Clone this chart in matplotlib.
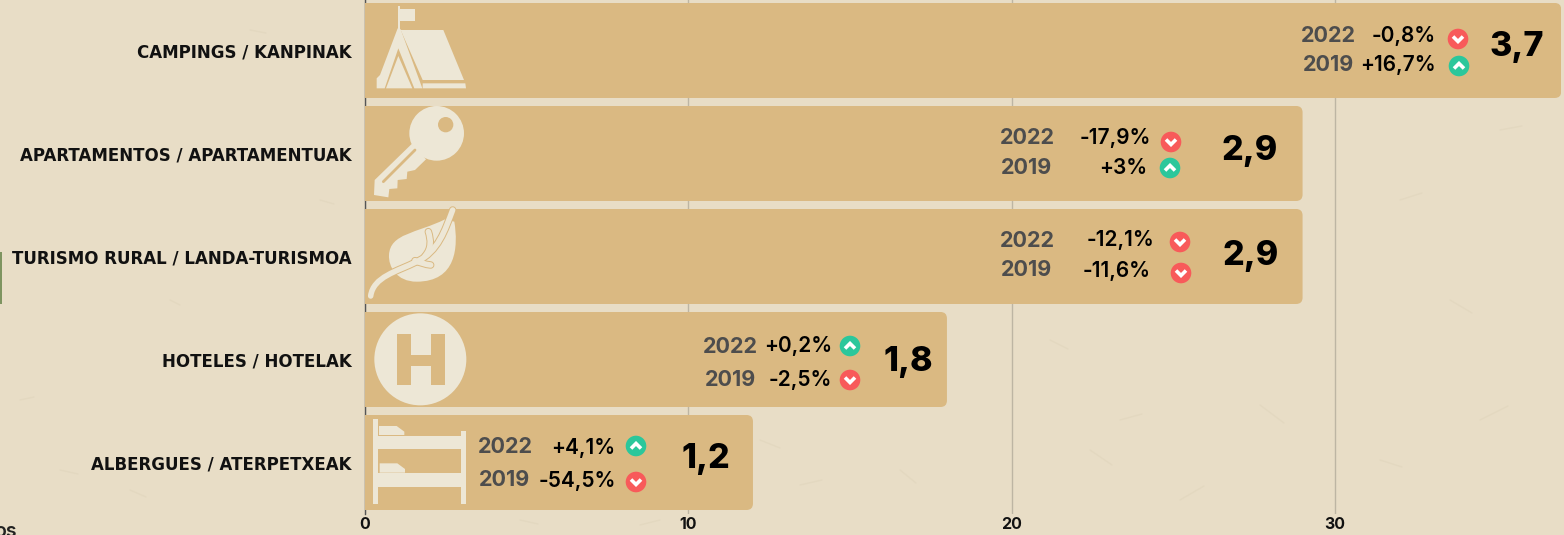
import matplotlib
matplotlib.use('Agg')
import matplotlib.pyplot as plt
from matplotlib.patches import Circle, FancyBboxPatch, PathPatch, Polygon, Rectangle
from matplotlib.path import Path

categories = ['CAMPINGS / KANPINAK', 'APARTAMENTOS / APARTAMENTUAK',
              'TURISMO RURAL / LANDA-TURISMOA', 'HOTELES / HOTELAK',
              'ALBERGUES / ATERPETXEAK']
bar_values = [37, 29, 29, 18, 12]
value_labels = ['3,7', '2,9', '2,9', '1,8', '1,2']
change_2022 = ['-0,8%', '-17,9%', '-12,1%', '+0,2%', '+4,1%']
change_2019 = ['+16,7%', '+3%', '-11,6%', '-2,5%', '-54,5%']
x_ticks = [0, 10, 20, 30]

BG = '#E8DDC6'
BAR = '#DAB982'
ICON = '#EDE7D6'
RED = '#F85A5A'
GREEN = '#2BC79B'
FONT = 'Inter'

# pixel layout of the annotations, one entry per bar
year_x = [1328, 1027, 1027, 730, 505]
year_y = [(36, 65), (138, 168), (241, 270), (347, 380), (447, 480)]
pct_x = [(1436, 1436), (1151, 1147), (1154, 1151), (832, 832), (615, 616)]
pct_y = [(36, 65), (138, 168), (240, 271), (346, 380), (448, 481)]
dot_xy = [((1458, 39), (1459, 66)), ((1171, 142), (1170, 168)),
          ((1180, 242), (1181, 273)), ((850, 346), (850, 380)),
          ((636, 446), (636, 482))]
big_xy = [(1517, 47), (1250, 151), (1251, 256), (908, 362), (706, 459)]

# faint paper marks on the background
paper_marks = [((20, 400), (34, 397)), ((60, 470), (78, 474)), ((130, 490), (146, 497)),
               ((170, 300), (180, 305)), ((250, 30), (266, 33)), ((320, 200), (334, 204)),
               ((520, 520), (538, 524)), ((640, 525), (660, 520)), ((760, 440), (780, 448)),
               ((800, 485), (822, 480)), ((900, 470), (916, 483)), ((1050, 340), (1068, 349)),
               ((1120, 420), (1142, 414)), ((1180, 500), (1204, 486)), ((1260, 405), (1284, 423)),
               ((1400, 200), (1422, 193)), ((1450, 300), (1472, 313)), ((1380, 460), (1402, 467)),
               ((1500, 130), (1522, 126)), ((1480, 420), (1508, 406)), ((1090, 450), (1112, 465))]


def draw_dot(ov, xy, up):
    x, y = xy
    ov.add_patch(Circle(xy, 10.3, fc=GREEN if up else RED, ec='none'))
    d = -2.5 if up else 2.5
    ov.plot([x - 5, x, x + 5], [y - d, y + d, y - d], color='white', lw=2.6,
            solid_joinstyle='miter', solid_capstyle='butt')


def zoom_poly(points, ox, oy):
    return [(ox + a / 3, oy + b / 3) for a, b in points]


def curve(points, ox, oy, closed=False):
    """Cubic path through zoom coordinates: start point, then triples"""
    verts = zoom_poly(points, ox, oy)
    codes = [Path.MOVETO] + [Path.CURVE4] * (len(verts) - 1)
    if closed:
        verts = verts + [verts[0]]
        codes = codes + [Path.CLOSEPOLY]
    return Path(verts, codes)


def draw_icons(ov):
    # tent
    ox, oy = 360, 0
    for pts in ([(113, 18), (120, 18), (120, 28), (165, 28), (165, 62), (120, 62), (120, 92), (113, 92)],
                [(122, 90), (250, 90), (312, 240), (188, 240)],
                [(113, 85), (122, 88), (187, 265), (163, 265), (115, 145), (74, 265), (50, 265),
                 (50, 235), (60, 225)],
                [(115, 168), (157, 265), (78, 265)],
                [(188, 250), (316, 250), (318, 265), (188, 265)]):
        ov.add_patch(Polygon(zoom_poly(pts, ox, oy), fc=ICON, ec='none'))

    # key
    ov.add_patch(Polygon(zoom_poly([(155, 432), (198, 478), (165, 510), (142, 515), (140, 537), (113, 540),
                                    (112, 565), (88, 567), (85, 592), (42, 585), (44, 540)], ox, oy),
                         fc=ICON, ec='none'))
    ov.add_patch(Circle((360 + 230 / 3, 400 / 3), 82 / 3, fc=ICON, ec='none'))
    ov.add_patch(Circle((360 + 257 / 3, 374 / 3), 23 / 3, fc=BAR, ec='none'))
    slot = zoom_poly([(165, 450), (70, 545)], ox, oy)
    ov.plot(*zip(*slot), color=BAR, lw=2, solid_capstyle='round')

    # leaf
    leaf = curve([(283, 665), (295, 740), (290, 845), (170, 845),
                  (110, 845), (85, 800), (87, 765),
                  (90, 700), (170, 700), (255, 658)], ox, oy, closed=True)
    ov.add_patch(PathPatch(leaf, fc=ICON, ec='none'))
    stem = curve([(32, 888), (40, 830), (110, 815), (170, 785),
                  (235, 755), (255, 690), (278, 630)], ox, oy)
    twig_a = curve([(205, 695), (213, 720), (215, 745), (195, 768)], ox, oy)
    twig_b = curve([(165, 782), (180, 788), (195, 793), (212, 795)], ox, oy)
    for path in (stem, twig_a, twig_b):
        ov.add_patch(PathPatch(path, fc='none', ec=BAR, lw=5.4, capstyle='round'))
    for path in (stem, twig_a, twig_b):
        ov.add_patch(PathPatch(path, fc='none', ec=ICON, lw=4.0, capstyle='round'))

    # hotel
    ox, oy = 360, 305
    ov.add_patch(Circle((ox + 181 / 3, oy + 163 / 3), 138 / 3, fc=ICON, ec='none'))
    ov.add_patch(Polygon(zoom_poly([(110, 88), (152, 88), (152, 150), (213, 150), (213, 88), (255, 88),
                                    (255, 240), (213, 240), (213, 183), (152, 183), (152, 240), (110, 240)],
                                   ox, oy), fc=BAR, ec='none'))

    # bunk bed
    for x0, y0, x1, y1 in ((39, 343, 53, 597), (302, 377, 317, 597),
                           (53, 392, 302, 432), (53, 505, 302, 546)):
        ov.add_patch(Rectangle((ox + x0 / 3, oy + y0 / 3), (x1 - x0) / 3, (y1 - y0) / 3, fc=ICON, ec='none'))
    for pts in ([(57, 363), (110, 363), (133, 380), (133, 390), (57, 390)],
                [(59, 475), (112, 475), (135, 492), (135, 503), (59, 503)]):
        ov.add_patch(Polygon(zoom_poly(pts, ox, oy), fc=ICON, ec='none'))


fig = plt.figure(figsize=(15.64, 5.35), dpi=100, facecolor=BG)
ax = fig.add_axes([365 / 1564, 21 / 535, 1199 / 1564, 514 / 535])
ax.set_facecolor('none')

ov = fig.add_axes([0, 0, 1, 1], zorder=5)
ov.set_xlim(0, 1564)
ov.set_ylim(535, 0)
ov.axis('off')
ov.patch.set_alpha(0)

bg = fig.add_axes([0, 0, 1, 1], zorder=-1)
bg.set_xlim(0, 1564)
bg.set_ylim(535, 0)
bg.axis('off')
for a, b in paper_marks:
    bg.plot([a[0], b[0]], [a[1], b[1]], color='#E3D8C0', lw=1, solid_capstyle='round')
bg.add_patch(Rectangle((0, 252), 2, 52, fc='#7E9460', ec='none'))
bg.text(-6, 532, 'os', fontsize=14, family=FONT, weight='semibold', color='#222222', va='center')

y_pos = list(range(len(categories)))
bars = ax.barh(y_pos, bar_values, height=95 / 103, color=BAR, zorder=2)
ax.set_xlim(0, 1199 / 32.33)
ax.set_ylim(4.5, -0.49)

# rounded right-hand corners, the left side stays square
for bar in bars:
    shape = FancyBboxPatch((-1, bar.get_y()), bar.get_width() + 1, bar.get_height(),
                           boxstyle='round,pad=0,rounding_size=0.2', mutation_aspect=32.33 / 103,
                           transform=ax.transData)
    bar.set_clip_path(shape)

ax.set_xticks(x_ticks)
ax.set_yticks(y_pos)
ax.set_yticklabels(categories, fontsize=11.95, family='DejaVu Sans', weight='bold', color='#111111')
ax.set_xticklabels(x_ticks, fontsize=11.5, family=FONT, weight='bold', color='#111111')
ax.tick_params(length=0)
ax.tick_params(axis='y', pad=9.4)
ax.tick_params(axis='x', pad=2)
ax.grid(axis='x', color='#BDB5A3', lw=1, zorder=1)
ax.set_axisbelow(True)
for side in ['top', 'right', 'bottom']:
    ax.spines[side].set_visible(False)
ax.spines['left'].set_color('#555555')
ax.spines['left'].set_linewidth(1)
ax.spines['left'].set_zorder(1)

draw_icons(ov)

for i in y_pos:
    for k, (year, change) in enumerate(zip(['2022', '2019'], [change_2022[i], change_2019[i]])):
        ov.text(year_x[i], year_y[i][k], year, ha='center', va='center', fontsize=15.5, family=FONT,
                weight='bold', color='#4D4D4D')
        ov.text(pct_x[i][k], pct_y[i][k], change, ha='right', va='center', fontsize=15, family=FONT,
                weight='semibold', color='black')
        draw_dot(ov, dot_xy[i][k], change.startswith('+'))
    ov.text(big_xy[i][0], big_xy[i][1], value_labels[i], ha='center', va='center', fontsize=24.5, family=FONT,
            weight='heavy', color='black')

fig.savefig('out.png', dpi=100, facecolor=BG)
plt.close('all')
